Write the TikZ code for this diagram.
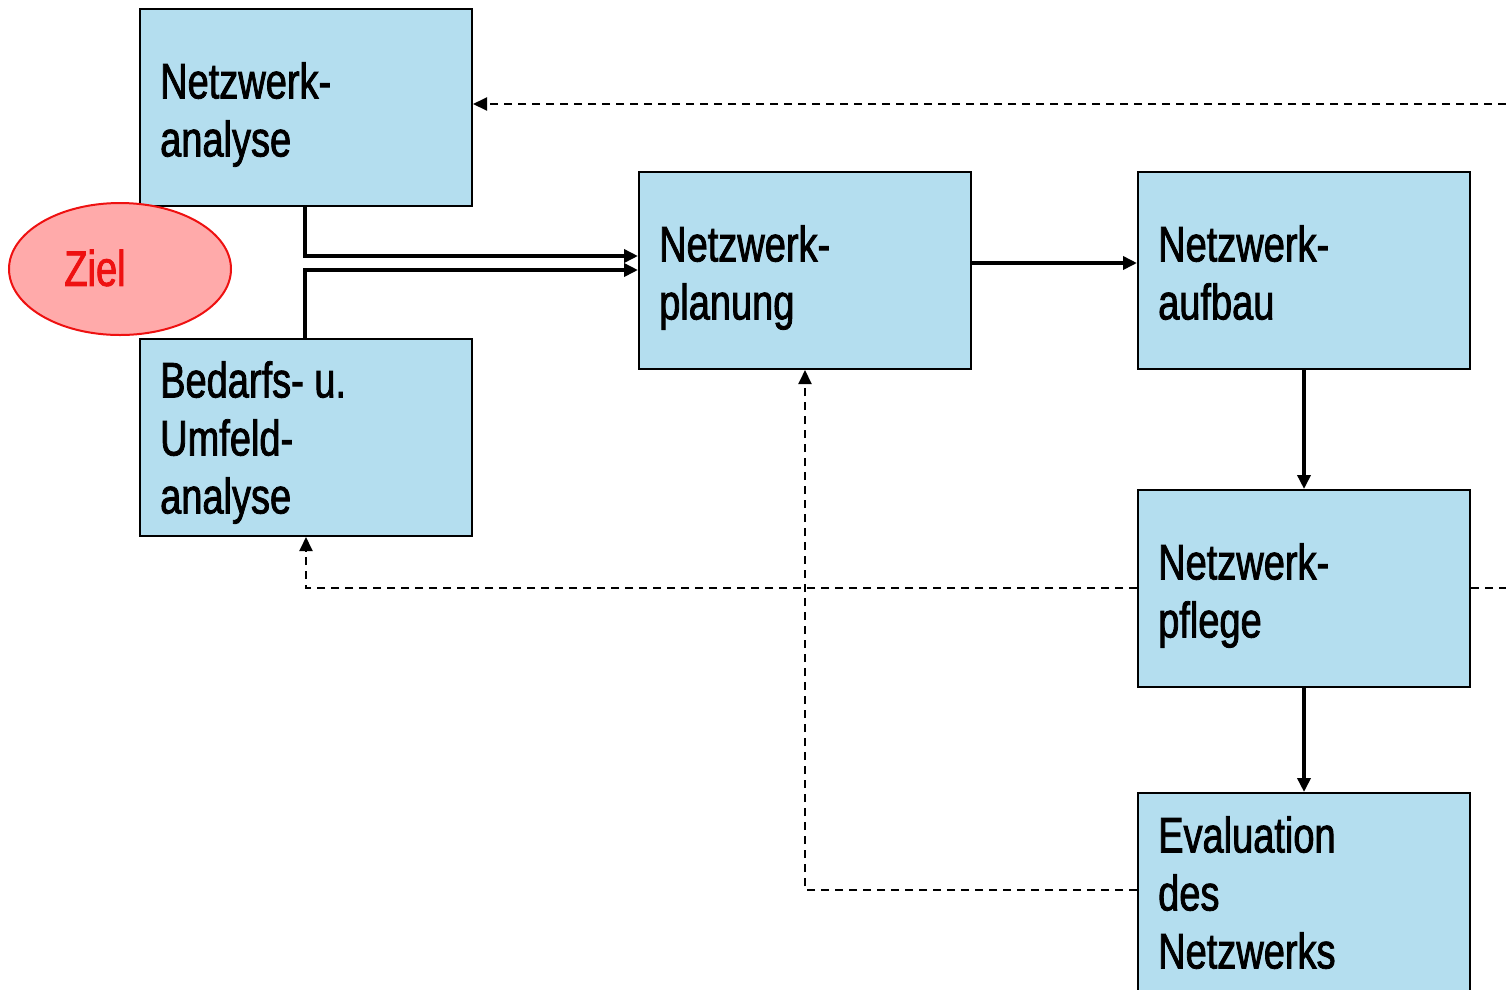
\documentclass[tikz,border=0pt]{standalone}
\usepackage{fontspec}
\setmainfont{Liberation Sans}[FakeStretch=0.76,FakeBold=1.6]
\usetikzlibrary{arrows.meta,shapes.geometric}
\definecolor{boxblue}{HTML}{B4DEEF}
\definecolor{zielfill}{HTML}{FFAAAA}
\definecolor{zielred}{HTML}{EE1111}
\tikzset{
  stepbox/.style={draw=black, line width=2pt, fill=boxblue, rectangle, minimum width=332pt, minimum height=197pt, inner sep=0pt, anchor=north west},
  boxtext/.style={anchor=north west, inner sep=0pt, align=left, font=\fontsize{50}{58}\selectfont, text=black},
  flow/.style={line width=3.5pt, -{Triangle[length=14pt,width=13pt]}},
  back/.style={line width=2pt, dash pattern=on 8pt off 6pt, -{Triangle[length=14pt,width=13pt]}},
  backplain/.style={line width=2pt, dash pattern=on 8pt off 6pt}
}
\begin{document}
\begin{tikzpicture}[x=1pt,y=-1pt]
\useasboundingbox (0,0) rectangle (1506,989);
% boxes
\node[stepbox] (ana) at (139,8) {};
\node[stepbox] (bed) at (139,338) {};
\node[stepbox] (plan) at (638,171) {};
\node[stepbox] (auf) at (1137,171) {};
\node[stepbox] (pfl) at (1137,489) {};
\node[stepbox, minimum height=210pt] (eva) at (1137,792) {};
% texts
\node[boxtext] (tana) at (160,62) {Netzwerk-\\analyse};
\node[boxtext] (tbed) at (160,361) {Bedarfs- u.\\Umfeld-\\analyse};
\node[boxtext] (tplan) at (659,225) {Netzwerk-\\planung};
\node[boxtext] (tauf) at (1158,225) {Netzwerk-\\aufbau};
\node[boxtext] (tpfl) at (1158,543) {Netzwerk-\\pflege};
\node[boxtext] (teva) at (1158,816) {Evaluation\\des\\Netzwerks};
% Ziel ellipse
\node[ellipse, draw=zielred, line width=2pt, fill=zielfill, minimum width=222pt, minimum height=132pt, inner sep=0pt] (ziel) at (120,269) {};
\node[font=\fontsize{50}{58}\selectfont, text=zielred, inner sep=0pt] (tziel) at (95,268) {Ziel};
% coordinates
\coordinate (rtop) at (1506,104);
\coordinate (rmid) at (1506,588);
% solid flows
\draw[flow] (ana.south -| 305,0) |- (plan.west |- 0,256);
\draw[flow] (bed.north -| 305,0) |- (plan.west |- 0,270);
\draw[flow] (plan.east |- 0,263) -- (auf.west |- 0,263);
\draw[flow] (auf.south) -- (pfl.north);
\draw[flow] (pfl.south) -- (eva.north);
% dashed feedback
\draw[back] (rtop) -- (ana.east |- rtop);
\draw[backplain] (pfl.east |- rmid) -- (rmid);
\draw[back] (pfl.west |- rmid) -| (bed.south);
\draw[back] (eva.west |- 0,890) -| (plan.south -| 805,0);
\end{tikzpicture}
\end{document}
